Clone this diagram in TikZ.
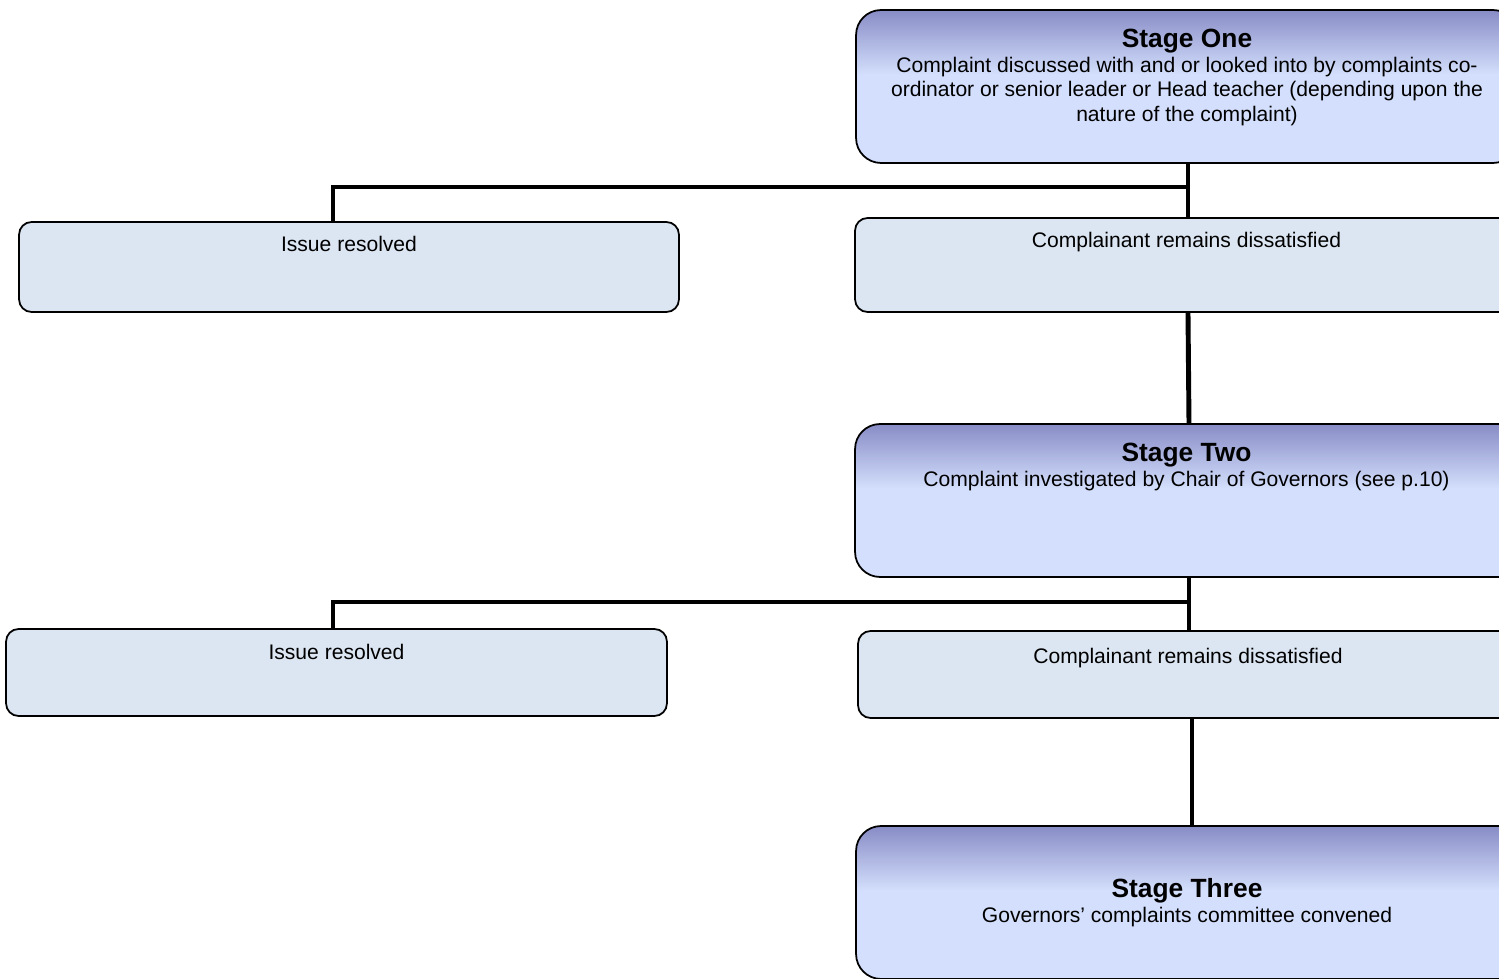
\documentclass[tikz,border=0pt]{standalone}
\usepackage{fontspec}
\setmainfont{Liberation Sans}
\usepackage{xcolor}
\usepackage{tikz}
\usetikzlibrary{shapes,arrows}

\definecolor{stageTop}{RGB}{136,140,198}
\definecolor{stageLight}{RGB}{211,223,252}
\definecolor{outcomeFill}{RGB}{220,230,242}

\pgfdeclareverticalshading{stagefade}{100bp}{color(0bp)=(stageLight); color(54bp)=(stageLight); color(75bp)=(stageTop); color(100bp)=(stageTop)}

\tikzset{
  stagebox/.style={shape=rectangle, draw = black, line width=1pt, rounded corners=0.5cm, shade, shading=stagefade, minimum width=13.24cm, minimum height=3.06cm, inner sep=0pt},
  outcomebox/.style={shape=rectangle, draw = black, line width=1pt, rounded corners=0.25cm, fill=outcomeFill, minimum width=13.2cm, minimum height=1.8cm, inner sep=0pt},
  boxtext/.style={anchor=north, align=center, inner sep=0pt, font=\fontsize{12}{14}\selectfont},
  link/.style={line width=2.8pt, line join=miter}
}
\newcommand{\stagetitle}[1]{{\fontsize{15}{18}\selectfont\bfseries #1}}

\begin{document}
\begin{tikzpicture}[x=0.02cm, y=-0.02cm]
\useasboundingbox (0,0) rectangle (1499,979);
\clip (0,0) rectangle (1499,979);

% Stage One
\node [stagebox] at (1187,86.5) (stage_one) {};
\node [boxtext] at (1187,29) (stage_one_text) {\stagetitle{Stage One}\\Complaint discussed with and or looked into by complaints co-\\ordinator or senior leader or Head teacher (depending upon the\\nature of the complaint)};

\node [outcomebox] at (349,267) (resolved_one) {};
\node [boxtext] at (349,236) (resolved_one_text) {Issue resolved};
\node [outcomebox, minimum width=13.32cm, minimum height=1.88cm] at (1188,265) (unhappy_one) {};
\node [boxtext] at (1186.5,232) (unhappy_one_text) {Complainant remains dissatisfied};

\coordinate (split_one) at (1188,187);
\coordinate (drop_one) at (333,187);
\draw [link] (stage_one.south -| unhappy_one) -- (unhappy_one.north);
\draw [link] (split_one) -- (drop_one) -- (drop_one |- resolved_one.north);

% Stage Two
\node [stagebox, minimum width=13.36cm] at (1189,500.5) (stage_two) {};
\node [boxtext] at (1186.5,443) (stage_two_text) {\stagetitle{Stage Two}\\Complaint investigated by Chair of Governors (see p.10)};

\draw [link] (unhappy_one.south) -- (stage_two.north);

\node [outcomebox, minimum width=13.22cm, minimum height=1.74cm] at (336.5,672.5) (resolved_two) {};
\node [boxtext] at (336.5,644) (resolved_two_text) {Issue resolved};
\node [outcomebox, minimum width=13.32cm, minimum height=1.74cm] at (1191,674.5) (unhappy_two) {};
\node [boxtext] at (1188,648) (unhappy_two_text) {Complainant remains dissatisfied};

\coordinate (split_two) at (1189,602);
\coordinate (drop_two) at (333,602);
\draw [link] (stage_two.south) -- (stage_two.south |- unhappy_two.north);
\draw [link] (split_two) -- (drop_two) -- (drop_two |- resolved_two.north);

% Stage Three
\node [stagebox, minimum width=13.44cm] at (1192,902.5) (stage_three) {};
\node [boxtext] at (1187,878) (stage_three_text) {\stagetitle{Stage Three}\\Governors’ complaints committee convened};

\draw [link] (unhappy_two.south -| stage_three) -- (stage_three.north);

\end{tikzpicture}
\end{document}
